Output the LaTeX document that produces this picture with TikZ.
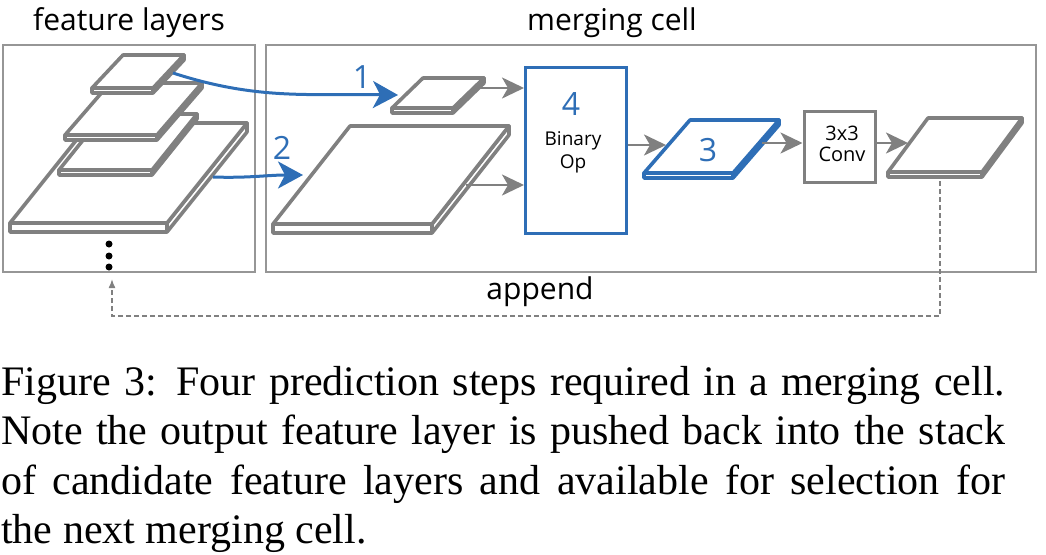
\documentclass[tikz,border=0pt]{standalone}
\usepackage{fontspec}
\setmainfont{Liberation Serif}
\newfontfamily\diagsans{Open Sans}
\usetikzlibrary{arrows.meta}
\definecolor{myblue}{RGB}{46,110,182}
\definecolor{mygray}{RGB}{128,128,128}
\definecolor{framegray}{RGB}{150,150,150}
\tikzset{
  frame/.style={draw=framegray, line width=1.3pt},
  slabline/.style={fill=white, line width=3.6pt, line join=round},
  bluearrow/.style={draw=myblue, line width=3pt, -{Stealth[length=25pt,width=27pt,inset=7pt]}},
  grayarrow/.style={draw=mygray, line width=2.6pt, -{Stealth[length=22pt,width=21pt,inset=6pt]}},
  appendline/.style={draw=mygray, line width=1.5pt, dash pattern=on 5pt off 3pt, -{Latex[length=9pt,width=7pt]}},
  title/.style={font=\diagsans\fontsize{30}{34}\selectfont, anchor=base, inner sep=0pt},
  digit/.style={font=\diagsans\fontsize{32}{36}\selectfont, text=myblue, inner sep=0pt},
  boxtext/.style={font=\diagsans\fontsize{19}{23}\selectfont, align=center, inner sep=0pt},
  dot/.style={circle, fill=black, inner sep=0pt, minimum size=7pt},
}
% x y w dx dy t colour
\newcommand\slabdraw[7]{%
  \filldraw[slabline,draw=#7] (#1,#2) rectangle ++(#3,#6);
  \filldraw[slabline,draw=#7] (#1+#3,#2) -- ++(#4,-#5) -- ++(0,#6) -- ++(-#4,#5) -- cycle;
  \filldraw[slabline,draw=#7] (#1,#2) -- ++(#3,0) -- ++(#4,-#5) -- ++(-#3,0) -- cycle;
}
\begin{document}
\begin{tikzpicture}[x=1pt,y=-1pt]
\useasboundingbox (0,0) rectangle (1046,554);
% frames
\draw[frame] (3,45) rectangle (255,272);
\draw[frame] (266,45) rectangle (1036,272);
% titles
\node[title] (tfeat) at (129,30) {feature layers};
\node[title] (tmerge) at (612,30) {merging cell};
% feature layer stack
\slabdraw{10}{223}{157}{80}{100}{9}{mygray}
\slabdraw{59}{170}{93}{45}{56}{5}{mygray}
\slabdraw{65}{135}{92}{45}{52}{5}{mygray}
\slabdraw{92}{88}{61}{31}{33}{5}{mygray}
% dots
\node[dot] (d1) at (109,244) {};
\node[dot] (d2) at (109,256) {};
\node[dot] (d3) at (109,267) {};
% merging cell slabs
\slabdraw{392}{108}{61}{31}{30}{5}{mygray}
\slabdraw{273}{224}{159}{77}{98}{9}{mygray}
\slabdraw{644}{173}{89}{46}{53}{5}{myblue}
\slabdraw{888}{172}{94}{40}{54}{5}{mygray}
% boxes
\node[draw=myblue, line width=3pt, minimum width=101pt, minimum height=166pt, inner sep=0pt] (binop) at (575.5,150) {};
\node[draw=mygray, line width=3pt, minimum width=71pt, minimum height=71pt, inner sep=0pt] (conv) at (839.5,146.5) {};
\node[boxtext] (bintxt) at (573,152) {Binary\\Op};
\node[boxtext, font=\diagsans\fontsize{20}{21}\selectfont] (convtxt) at (842,143.5) {3x3\\Conv};
% digits
\node[digit] (n1) at (362,77) {1};
\node[digit] (n2) at (282,148) {2};
\node[digit] (n4) at (571,104) {4};
\node[digit] (n3) at (708,150) {3};
% connector end points
\coordinate (a1s) at (173,73);
\coordinate (a1e) at (398,95);
\coordinate (a2s) at (213,177);
\coordinate (a2e) at (303,175);
\coordinate (s1r) at (474,88);
\coordinate (b1) at (524,88);
\coordinate (s2r) at (466,185);
\coordinate (b2) at (524,185);
\coordinate (s3l) at (666,145);
\coordinate (s3r) at (762,143);
\coordinate (outl) at (908,143);
\coordinate (outb) at (940,181);
\coordinate (c1) at (940,316);
\coordinate (c2) at (112,316);
\coordinate (tip) at (112,279);
% blue arrows
\draw[bluearrow] (a1s) to[out=-18,in=179] (a1e);
\draw[bluearrow] (a2s) to[out=-2,in=180] (a2e);
% gray arrows
\draw[grayarrow] (s1r) -- (b1);
\draw[grayarrow] (s2r) -- (b2);
\draw[grayarrow] (binop.east |- s3l) -- (s3l);
\draw[grayarrow] (s3r) -- (conv.west |- s3r);
\draw[grayarrow] (conv.east |- outl) -- (outl);
% append loop
\draw[appendline] (outb) -- (c1) -- (c2) -- (tip);
\node[title] (tappend) at (540,299) {append};
% caption
\node[anchor=base west, inner sep=0pt, text width=1004pt, align=justify,
      font=\fontsize{42}{49.5}\selectfont] (caption) at (1,395)
  {Figure 3: Four prediction steps required in a merging cell.\linebreak
   Note the output feature layer is pushed back into the stack\linebreak
   of candidate feature layers and available for selection for\linebreak
   the next merging cell.};
\end{tikzpicture}
\end{document}
